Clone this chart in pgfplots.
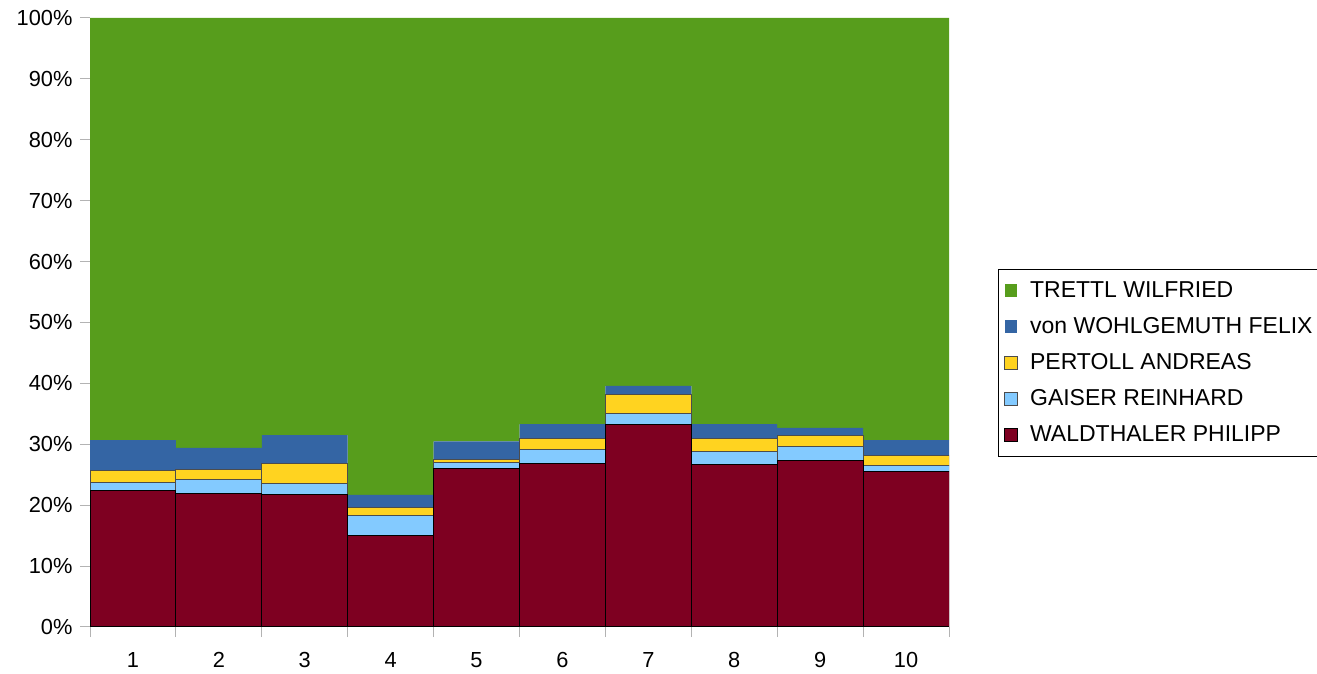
\documentclass[border=0pt]{standalone}
\usepackage{pgfplots}
\pgfplotsset{compat=1.18}
\usepackage{fontspec}
\setmainfont{Liberation Sans}
\definecolor{cgreen}{HTML}{579D1C}
\definecolor{cblue}{HTML}{3465A4}
\definecolor{cyellow}{HTML}{FFD320}
\definecolor{clblue}{HTML}{83CAFF}
\definecolor{cred}{HTML}{7E0021}
\definecolor{caxis}{HTML}{B3B3B3}
\begin{document}
\fontsize{10.7}{12.8}\selectfont
\begin{tikzpicture}
\path[use as bounding box] (0,0) rectangle (658.5pt,337pt);
\begin{axis}[
  at={(45pt,23.5pt)}, anchor=south west,
  scale only axis, width=429.5pt, height=304.5pt,
  ybar stacked, bar width=1,
  xmin=0.5, xmax=10.5, ymin=0, ymax=100,
  axis x line*=bottom, axis y line*=left,
  axis line style={caxis, line width=0.5pt},
  tick style={caxis, line width=0.5pt},
  tick align=outside, major tick length=5pt,
  xtick={0.5,1.5,...,10.5}, x tick label as interval,
  xticklabels={1,2,3,4,5,6,7,8,9,10},
  ytick={0,10,...,100},
  yticklabels={0\%,10\%,20\%,30\%,40\%,50\%,60\%,70\%,80\%,90\%,100\%},
  ticklabel style={font=\fontsize{10.9}{13}\selectfont},
  x tick label style={yshift=-4pt},
  reverse legend,
  legend cell align=left,
  legend style={at={(axis description cs:1,0.5)}, anchor=west, xshift=24.5pt, yshift=-20.2pt,
    draw=black, line width=0.5pt, row sep=4.4pt, inner xsep=2pt, inner ysep=4pt,
    nodes={inner xsep=1pt},
    font=\fontsize{11.5}{13}\selectfont},
  legend image code/.code={\path[#1] (1pt,-3.2pt) rectangle (7.4pt,3.2pt);
    \path[draw=none, fill=none] (0pt,0pt) -- (12.8pt,0pt);},
]
\addplot[fill=cred, draw=black, line width=0.5pt] coordinates {
  (1,22.4) (2,22.0) (3,21.8) (4,15.0) (5,26.1) (6,26.9) (7,33.3) (8,26.7) (9,27.4) (10,25.5)};
\addplot[fill=clblue, draw=black!70, line width=0.5pt] coordinates {
  (1,1.3) (2,2.3) (3,1.7) (4,3.3) (5,0.9) (6,2.2) (7,1.8) (8,2.1) (9,2.3) (10,1.0)};
\addplot[fill=cyellow, draw=black!70, line width=0.5pt] coordinates {
  (1,2.0) (2,1.6) (3,3.4) (4,1.4) (5,0.5) (6,1.9) (7,3.0) (8,2.1) (9,1.7) (10,1.7)};
\addplot[fill=cblue, draw=none] coordinates {
  (1,5.0) (2,3.5) (3,4.6) (4,2.0) (5,3.0) (6,2.3) (7,1.5) (8,2.4) (9,1.3) (10,2.5)};
\addplot[fill=cgreen, draw=none] coordinates {
  (1,69.3) (2,70.6) (3,68.5) (4,78.3) (5,69.5) (6,66.7) (7,60.4) (8,66.7) (9,67.3) (10,69.3)};
\legend{WALDTHALER PHILIPP,GAISER REINHARD,PERTOLL ANDREAS,von WOHLGEMUTH FELIX,TRETTL WILFRIED}
\end{axis}
\end{tikzpicture}
\end{document}
